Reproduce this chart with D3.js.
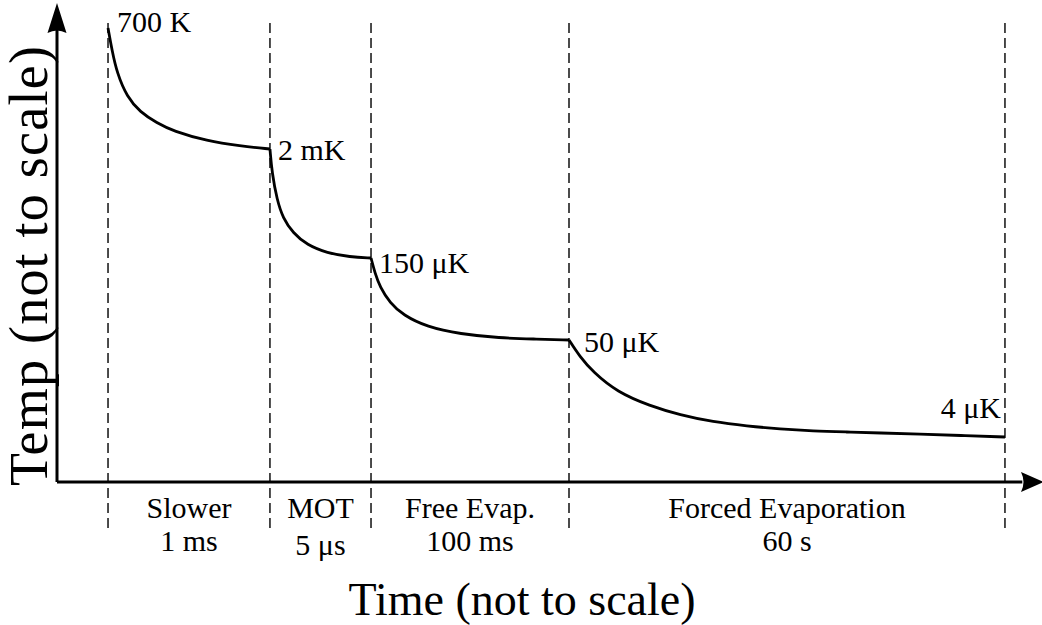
<html>
    <head>
        <title>Cooling stages</title>
        <script src="https://d3js.org/d3.v7.min.js" charset="utf-8"></script>
        <style>
        body {
            margin: 0;
            background: white;
        }
        text {
            font-family: "Liberation Serif", "Times New Roman", serif;
            fill: black;
        }
        </style>
    </head>
    <body>
        <script>
            // size of graphic
            var width = 1042;
            var height = 625;

            // phase boundaries (arbitrary time units, not to scale)
            var bounds = [5.18, 21.62, 31.88, 51.98, 96.24];
            var phaseNames = ["Slower", "MOT", "Free Evap.", "Forced Evaporation"];
            var phaseTimes = ["1 ms", "5 \u03bcs", "100 ms", "60 s"];

            // temperature curve for each phase (arbitrary units)
            var seg1T = [5.18, 5.58, 6.09, 7.11, 8.43, 10.15, 11.78, 15.23, 18.58, 21.62];
            var seg1Y = [94.78, 90.19, 85.39, 80.38, 77.24, 74.95, 73.28, 71.19, 70.15, 69.52];
            var seg2T = [21.62, 21.83, 22.34, 22.94, 23.96, 25.38, 27.41, 29.75, 31.88];
            var seg2Y = [69.52, 64.51, 58.87, 55.11, 51.98, 49.48, 47.81, 46.97, 46.76];
            var seg3T = [31.88, 32.28, 32.79, 33.81, 35.13, 37.56, 40.91, 44.97, 48.32, 51.98];
            var seg3Y = [46.76, 43.63, 40.71, 37.37, 34.86, 32.36, 30.90, 30.06, 29.85, 29.65];
            var seg4T = [51.98, 53.10, 54.42, 56.85, 60.20, 63.25, 66.60, 70.05, 73.40, 76.75, 80.20, 83.55, 87.61, 91.68, 96.24];
            var seg4Y = [29.65, 26.10, 22.96, 18.79, 15.87, 13.99, 12.53, 11.69, 11.06, 10.65, 10.44, 10.23, 10.02, 9.71, 9.39];

            // temperature labels at start of each phase (and the end)
            var tempLabels = ["700 K", "2 mK", "150 \u03bcK", "50 \u03bcK", "4 \u03bcK"];

            var segT = [seg1T, seg2T, seg3T, seg4T];
            var segY = [seg1Y, seg2Y, seg3Y, seg4Y];

            // scales
            var x = d3.scaleLinear().domain([0, 100]).range([57, 1042]);
            var y = d3.scaleLinear().domain([0, 100]).range([482, 3]);

            var svg = d3.select("body")
                .append("svg")
                .attr("width", width)
                .attr("height", height);

            // dashed phase boundaries
            svg.append("g").selectAll("line")
                .data(bounds)
                .enter()
                .append("line")
                .attr("x1", function(d){ return x(d); })
                .attr("x2", function(d){ return x(d); })
                .attr("y1", y(95.8))
                .attr("y2", y(-10.4))
                .attr("stroke", "#111")
                .attr("stroke-width", 1.5)
                .attr("stroke-dasharray", "10,5");

            // axes with arrows
            var axes = svg.append("g");
            axes.append("line")
                .attr("x1", x(0)).attr("y1", y(0))
                .attr("x2", x(0)).attr("y2", y(96))
                .attr("stroke", "black").attr("stroke-width", 3);
            axes.append("line")
                .attr("x1", x(0)).attr("y1", y(0))
                .attr("x2", x(98)).attr("y2", y(0))
                .attr("stroke", "black").attr("stroke-width", 3);
            // up arrow
            axes.append("path")
                .attr("d", "M" + x(0) + "," + y(100) +
                    " L" + (x(0) + 9.5) + "," + (y(100) + 30) +
                    " Q" + x(0) + "," + (y(100) + 25) + " " + (x(0) - 9.5) + "," + (y(100) + 30) + " Z")
                .attr("fill", "black");
            // right arrow
            axes.append("path")
                .attr("d", "M" + (x(100) + 2) + "," + y(0) +
                    " L" + (x(100) - 21) + "," + (y(0) - 10) +
                    " Q" + (x(100) - 16) + "," + y(0) + " " + (x(100) - 21) + "," + (y(0) + 10) + " Z")
                .attr("fill", "black");

            // temperature curve, one path per phase
            var line = d3.line()
                .x(function(d){ return x(d[0]); })
                .y(function(d){ return y(d[1]); })
                .curve(d3.curveBasis);

            svg.append("g").selectAll("path")
                .data(segT.map(function(ts, i){
                    return ts.map(function(t, j){ return [t, segY[i][j]]; });
                }))
                .enter()
                .append("path")
                .attr("d", line)
                .attr("fill", "none")
                .attr("stroke", "black")
                .attr("stroke-width", 2.8)
                .attr("stroke-linejoin", "round");

            // temperature labels
            var labelPts = [
                [seg1T[0], seg1Y[0]],
                [seg2T[0], seg2Y[0]],
                [seg3T[0], seg3Y[0]],
                [seg4T[0], seg4Y[0]],
                [seg4T[seg4T.length - 1], seg4Y[seg4Y.length - 1]]
            ];
            var labelOff = [[9, 4], [8, 11], [8, 15], [15, 12], [-4, -19]];
            svg.append("g").selectAll("text")
                .data(tempLabels)
                .enter()
                .append("text")
                .attr("x", function(d, i){ return x(labelPts[i][0]) + labelOff[i][0]; })
                .attr("y", function(d, i){ return y(labelPts[i][1]) + labelOff[i][1]; })
                .attr("text-anchor", function(d, i){ return i == 4 ? "end" : "start"; })
                .attr("font-size", 30)
                .text(function(d){ return d; });

            // phase names + durations under the axis
            var mids = phaseNames.map(function(d, i){ return (bounds[i] + bounds[i + 1]) / 2; });
            svg.append("g").selectAll("text")
                .data(phaseNames)
                .enter()
                .append("text")
                .attr("x", function(d, i){ return x(mids[i]); })
                .attr("y", 518)
                .attr("text-anchor", "middle")
                .attr("font-size", 30)
                .text(function(d){ return d; });
            svg.append("g").selectAll("text")
                .data(phaseTimes)
                .enter()
                .append("text")
                .attr("x", function(d, i){ return x(mids[i]); })
                .attr("y", function(d, i){ return i == 1 ? 555 : 551; })
                .attr("text-anchor", "middle")
                .attr("font-size", 30)
                .text(function(d){ return d; });

            // axis titles
            svg.append("text")
                .attr("x", 522)
                .attr("y", 615)
                .attr("text-anchor", "middle")
                .attr("font-size", 46)
                .text("Time (not to scale)");
            svg.append("text")
                .attr("transform", "translate(47,266) rotate(-90)")
                .attr("text-anchor", "middle")
                .attr("font-size", 54)
                .attr("textLength", 440)
                .attr("lengthAdjust", "spacing")
                .text("Temp (not to scale)");
        </script>
    </body>
</html>
